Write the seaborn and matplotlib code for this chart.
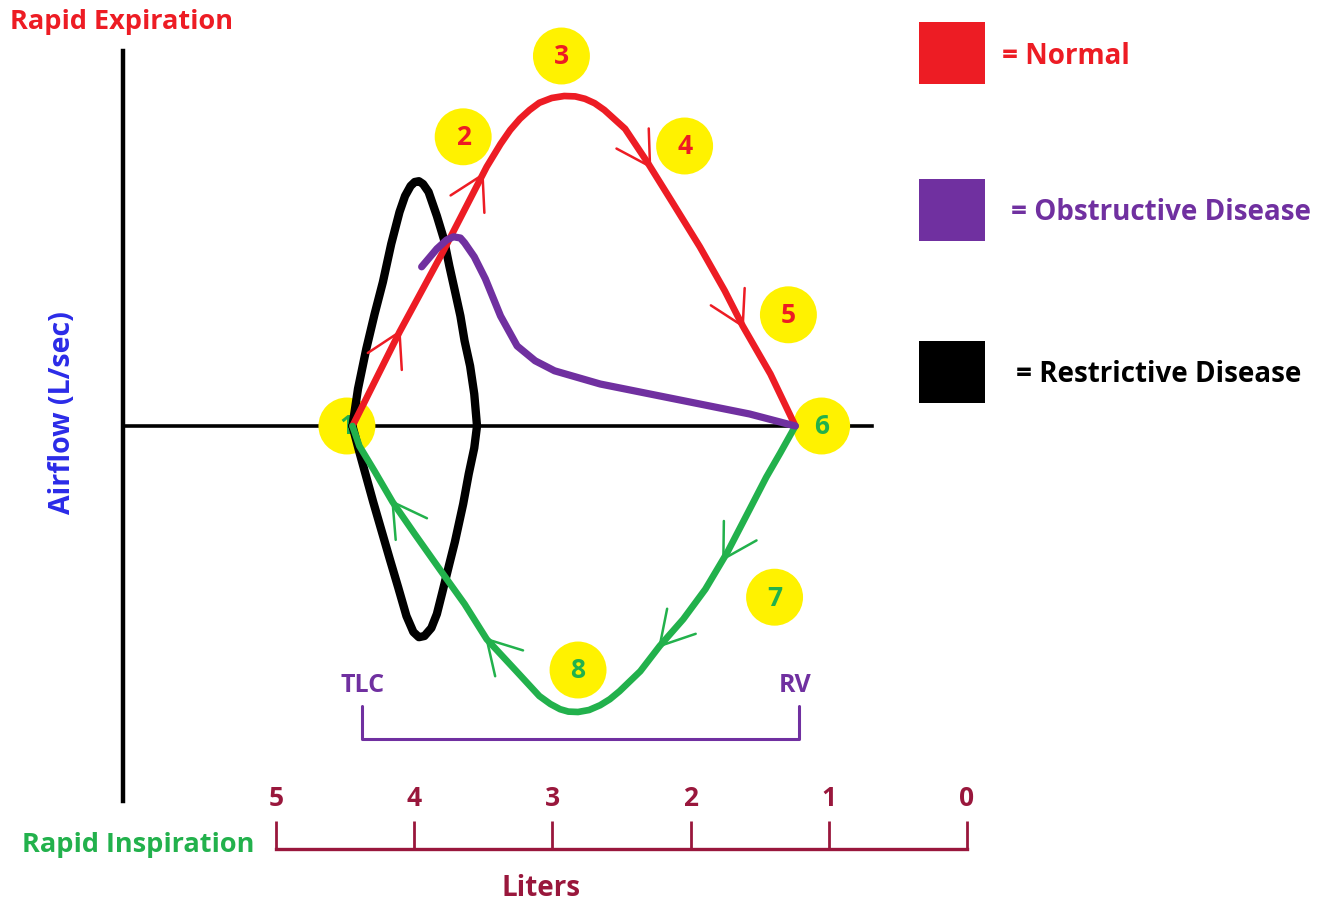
import numpy as np
import matplotlib
matplotlib.use("Agg")
import matplotlib.pyplot as plt
from matplotlib.patches import Rectangle
import seaborn as sns

W, H = 1318, 903

# ---- data (volume in liters, airflow in L/sec) ----
normal_exp_vol = [4.44, 4.36, 4.10, 3.79, 3.47, 3.37, 3.30, 3.23, 3.16, 3.09, 3.00,
                  2.91, 2.83, 2.76, 2.69, 2.62, 2.47, 2.31, 2.13, 1.93, 1.75,
                  1.62, 1.42, 1.24]
normal_exp_flow = [0.0, 0.55, 2.35, 4.33, 6.48, 7.05, 7.40, 7.68, 7.90, 8.08, 8.20,
                   8.25, 8.24, 8.18, 8.07, 7.90, 7.43, 6.60, 5.60, 4.48, 3.38,
                   2.50, 1.30, 0.0]

normal_insp_vol = [1.24, 1.35, 1.45, 1.58, 1.73, 1.89, 2.05, 2.22, 2.36, 2.51,
                   2.58, 2.65, 2.73, 2.81, 2.88, 2.94, 3.01, 3.09, 3.25, 3.47,
                   3.63, 3.81, 3.99, 4.15, 4.28, 4.39, 4.44]
normal_insp_flow = [0.0, -0.68, -1.28, -2.15, -3.15, -4.08, -4.83, -5.50, -6.13, -6.63,
                    -6.83, -6.98, -7.10, -7.15, -7.14, -7.08, -6.95, -6.75, -6.15, -5.33,
                    -4.45, -3.58, -2.70, -1.90, -1.13, -0.50, 0.0]

obstructive_vol = [3.94, 3.83, 3.76, 3.71, 3.66, 3.63, 3.56, 3.48, 3.37, 3.25, 3.12,
                   2.98, 2.65, 2.29, 1.93, 1.57, 1.24]
obstructive_flow = [3.98, 4.43, 4.65, 4.73, 4.70, 4.58, 4.23, 3.68, 2.75, 2.00, 1.63,
                    1.38, 1.05, 0.80, 0.55, 0.30, 0.0]

restrictive_vol = [4.44, 4.40, 4.34, 4.28, 4.22, 4.16, 4.10, 4.06, 4.02, 3.99, 3.96,
                   3.93, 3.89, 3.83, 3.78, 3.74, 3.70, 3.66, 3.63, 3.59, 3.56,
                   3.54, 3.56, 3.60, 3.64, 3.70, 3.74, 3.79, 3.83, 3.87, 3.92, 3.96,
                   4.00, 4.05, 4.11, 4.17, 4.29, 4.39, 4.44]
restrictive_flow = [0.0, 0.93, 1.93, 2.80, 3.60, 4.55, 5.35, 5.75, 6.00, 6.10, 6.12,
                    6.05, 5.85, 5.25, 4.68, 4.00, 3.38, 2.75, 2.13, 1.50, 0.80,
                    0.0, -0.55, -1.20, -1.95, -2.90, -3.45, -4.15, -4.70, -5.05, -5.25, -5.28,
                    -5.15, -4.75, -4.03, -3.33, -1.90, -0.65, 0.0]

# arrow heads (volume where each chevron sits)
normal_exp_arrows = [4.10, 3.50, 2.29, 1.62]
normal_insp_arrows = [1.76, 2.22, 3.47, 4.15]

# numbered points 1..8
point_labels = ["1", "2", "3", "4", "5", "6", "7", "8"]
point_vol = [4.48, 3.64, 2.93, 2.04, 1.29, 1.05, 1.39, 2.81]
point_flow = [0.0, 7.23, 9.25, 7.00, 2.78, 0.0, -4.28, -6.10]

liter_ticks = [5, 4, 3, 2, 1, 0]
tlc_vol, rv_vol = 4.37, 1.21

legend_labels = ["= Normal", "= Obstructive Disease", "= Restrictive Disease"]

RED = "#ED1C24"
PURPLE = "#7030A0"
GREEN = "#22B14C"
YELLOW = "#FFF200"
MAROON = "#99173C"
BLUE = "#2B2BE8"
point_colors = [GREEN, RED, RED, RED, RED, GREEN, GREEN, GREEN]

sns.set_theme(style="white")
plt.rcParams['font.family'] = ['Open Sans', 'DejaVu Sans']
plt.rcParams['font.weight'] = 'bold'

fig = plt.figure(figsize=(W / 100, H / 100), dpi=100)
fig.patch.set_facecolor("white")


def fx(px):
    return px / W


def fy(py):
    return 1 - py / H


# main diagram axes: left spine = airflow axis, bottom spine on zero flow
ax = fig.add_axes([fx(123), fy(802), fx(872) - fx(123), fy(52) - fy(802)])
ax.set_xlim(6.098, 0.686)
ax.set_ylim(-9.375, 9.375)
ax.patch.set_visible(False)
ax.set_xticks([])
ax.set_yticks([])
for s in ["top", "right"]:
    ax.spines[s].set_visible(False)
ax.spines["left"].set_color("black")
ax.spines["left"].set_linewidth(3.2)
ax.spines["bottom"].set_position(("data", 0))
ax.spines["bottom"].set_color("black")
ax.spines["bottom"].set_linewidth(2.6)
ax.spines["bottom"].set_zorder(2)
ax.spines["left"].set_zorder(2)

# yellow circles and numbers
ax.scatter(point_vol, point_flow, s=41 ** 2, color=YELLOW, edgecolor="none",
           zorder=3, clip_on=False)
for lab, v, f, c in zip(point_labels, point_vol, point_flow, point_colors):
    ax.text(v, f, lab, color=c, fontsize=19, fontweight="bold",
            ha="center", va="center", zorder=3.5)

line_kw = dict(sort=False, estimator=None, legend=False, ax=ax,
               solid_capstyle="round", solid_joinstyle="round", zorder=4)
sns.lineplot(x=restrictive_vol, y=restrictive_flow, color="black", linewidth=6.0, **line_kw)
sns.lineplot(x=normal_exp_vol, y=normal_exp_flow, color=RED, linewidth=4.8, **line_kw)
sns.lineplot(x=normal_insp_vol, y=normal_insp_flow, color=GREEN, linewidth=4.8, **line_kw)
sns.lineplot(x=obstructive_vol, y=obstructive_flow, color=PURPLE, linewidth=5.2, **line_kw)


def chevrons(vol, flow, tips, color, length=38, angle=30):
    disp = ax.transData.transform(np.column_stack([vol, flow]))
    inv = ax.transData.inverted()
    for tv in tips:
        i = 0
        for i in range(len(vol) - 1):
            if (vol[i] - tv) * (vol[i + 1] - tv) <= 0:
                break
        t = (tv - vol[i]) / (vol[i + 1] - vol[i])
        p = disp[i] + t * (disp[i + 1] - disp[i])
        d = disp[i + 1] - disp[i]
        back = -d / np.hypot(*d)
        for a in (angle, -angle):
            r = np.radians(a)
            w = np.array([back[0] * np.cos(r) - back[1] * np.sin(r),
                          back[0] * np.sin(r) + back[1] * np.cos(r)])
            seg = inv.transform(np.vstack([p, p + length * w]))
            ax.plot(seg[:, 0], seg[:, 1], color=color, lw=1.8, zorder=4)


chevrons(normal_exp_vol, normal_exp_flow, normal_exp_arrows, RED)
chevrons(normal_insp_vol, normal_insp_flow, normal_insp_arrows, GREEN)

# TLC / RV bracket
ax.plot([tlc_vol, tlc_vol, rv_vol, rv_vol], [-7.0, -7.83, -7.83, -7.0],
        color=PURPLE, lw=2.2, zorder=2)
ax.text(tlc_vol, -6.45, "TLC", color=PURPLE, fontsize=18, fontweight="bold",
        ha="center", va="center")
ax.text(rv_vol + 0.03, -6.45, "RV", color=PURPLE, fontsize=18, fontweight="bold",
        ha="center", va="center")

# liters scale
sax = fig.add_axes([fx(276), fy(850) - 0.002, fx(967) - fx(276), 0.002])
sax.set_xlim(5, 0)
sax.set_xticks(liter_ticks)
sax.set_xticklabels([str(t) for t in liter_ticks])
sax.set_yticks([])
sax.patch.set_visible(False)
for s in ["left", "right", "bottom"]:
    sax.spines[s].set_visible(False)
sax.spines["top"].set_color(MAROON)
sax.spines["top"].set_linewidth(2.4)
sax.tick_params(axis="x", top=True, bottom=False, labeltop=True, labelbottom=False,
                direction="out", length=20, width=2.0, color=MAROON,
                labelcolor=MAROON, labelsize=19, pad=7)
for lbl in sax.get_xticklabels():
    lbl.set_fontweight("bold")

# texts
fig.text(fx(10), fy(22), "Rapid Expiration", color=RED, fontsize=19.5,
         fontweight="bold", ha="left", va="center")
fig.text(fx(62), fy(413), "Airflow (L/sec)", color=BLUE, fontsize=20.5,
         fontweight="bold", ha="center", va="center", rotation=90)
fig.text(fx(22), fy(845), "Rapid Inspiration", color=GREEN, fontsize=19.5,
         fontweight="bold", ha="left", va="center")
fig.text(fx(541), fy(889), "Liters", color=MAROON, fontsize=20,
         fontweight="bold", ha="center", va="center")

# legend
legend_colors = [RED, PURPLE, "black"]
legend_sq_y = [23, 180, 342]
legend_text_x = [1002, 1011, 1016]
for lab, c, y, tx in zip(legend_labels, legend_colors, legend_sq_y, legend_text_x):
    fig.add_artist(Rectangle((fx(919), fy(y + 62)), fx(66), 62 / H,
                             transform=fig.transFigure, color=c, lw=0))
    fig.text(fx(tx), fy(y + 33), lab, color=c, fontsize=20, fontweight="bold",
             ha="left", va="center")

fig.savefig("out.png", dpi=100)
